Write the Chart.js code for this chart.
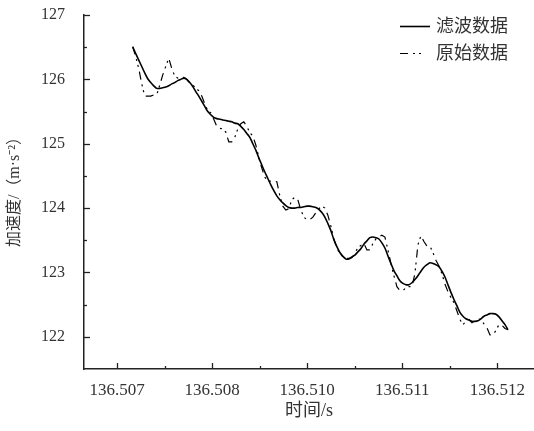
<!DOCTYPE html>
<html>
<head>
<meta charset="utf-8">
<script src="https://cdn.jsdelivr.net/npm/chart.js@4.4.1/dist/chart.umd.min.js"></script>
<style>
  html, body { margin: 0; padding: 0; background: #fff; }
</style>
</head>
<body>
<canvas id="accelChart" width="534" height="431"></canvas>
<script>
// Sample times (s)
const time = [
  136.506900, 136.506945, 136.506990, 136.507035, 136.507080, 136.507125, 136.507170, 136.507215, 136.507260, 136.507305,
  136.507350, 136.507395, 136.507440, 136.507485, 136.507530, 136.507575, 136.507620, 136.507665, 136.507710, 136.507755,
  136.507800, 136.507845, 136.507890, 136.507935, 136.507980, 136.508025, 136.508070, 136.508115, 136.508160, 136.508205,
  136.508250, 136.508295, 136.508340, 136.508385, 136.508430, 136.508475, 136.508520, 136.508565, 136.508610, 136.508655,
  136.508700, 136.508745, 136.508790, 136.508835, 136.508880, 136.508925, 136.508970, 136.509015, 136.509060, 136.509105,
  136.509150, 136.509195, 136.509240, 136.509285, 136.509330, 136.509375, 136.509420, 136.509465, 136.509510, 136.509555,
  136.509600, 136.509645, 136.509690, 136.509735, 136.509780, 136.509825, 136.509870, 136.509915, 136.509960, 136.510005,
  136.510050, 136.510095, 136.510140, 136.510185, 136.510230, 136.510275, 136.510320, 136.510365, 136.510410, 136.510455,
  136.510500, 136.510545, 136.510590, 136.510635, 136.510680, 136.510725, 136.510770, 136.510815, 136.510860, 136.510905,
  136.510950, 136.510995, 136.511040, 136.511085, 136.511130, 136.511175, 136.511220, 136.511265, 136.511310, 136.511355,
  136.511400, 136.511445, 136.511490, 136.511535, 136.511580, 136.511625, 136.511670, 136.511715, 136.511760, 136.511805,
  136.511850, 136.511895, 136.511940, 136.511985, 136.512030, 136.512075, 136.512120, 136.512165, 136.512210, 136.512255,
  136.512300, 136.512345, 136.512390, 136.512435, 136.512480, 136.512525
];

// Filtered acceleration (m/s^2)
const filtered = [
  126.50, 126.40, 126.30, 126.20, 126.10, 126.01, 125.95, 125.90, 125.86, 125.86,
  125.87, 125.88, 125.90, 125.93, 125.95, 125.98, 126.00, 126.02, 126.00, 125.95,
  125.89, 125.81, 125.74, 125.66, 125.58, 125.50, 125.45, 125.41, 125.39, 125.38,
  125.37, 125.36, 125.35, 125.34, 125.32, 125.31, 125.27, 125.22, 125.16, 125.10,
  125.00, 124.90, 124.78, 124.67, 124.56, 124.46, 124.36, 124.27, 124.19, 124.13,
  124.08, 124.04, 124.01, 124.00, 124.00, 124.01, 124.01, 124.02, 124.03, 124.03,
  124.02, 124.01, 123.98, 123.93, 123.86, 123.76, 123.65, 123.51, 123.40, 123.31,
  123.25, 123.21, 123.21, 123.24, 123.27, 123.32, 123.37, 123.44, 123.49, 123.54,
  123.55, 123.54, 123.52, 123.46, 123.38, 123.26, 123.14, 123.03, 122.95, 122.87,
  122.83, 122.81, 122.81, 122.84, 122.89, 122.95, 123.02, 123.08, 123.12, 123.15,
  123.14, 123.12, 123.09, 123.02, 122.93, 122.81, 122.69, 122.58, 122.48, 122.38,
  122.32, 122.28, 122.26, 122.24, 122.24, 122.25, 122.28, 122.32, 122.34, 122.36,
  122.36, 122.35, 122.31, 122.25, 122.19, 122.11
];

// Raw acceleration (m/s^2)
const raw = [
  126.51, 126.35, 126.17, 125.93, 125.74, 125.74, 125.74, 125.76, 125.76, 125.91,
  126.07, 126.20, 126.33, 126.17, 126.05, 126.02, 126.03, 126.03, 126.00, 125.94,
  125.91, 125.87, 125.82, 125.74, 125.62, 125.51, 125.48, 125.38, 125.27, 125.24,
  125.23, 125.18, 125.03, 125.03, 125.10, 125.23, 125.31, 125.34, 125.27, 125.17,
  125.12, 124.98, 124.79, 124.62, 124.48, 124.42, 124.42, 124.42, 124.41, 124.19,
  124.03, 123.97, 123.99, 124.13, 124.17, 124.13, 123.97, 123.86, 123.82, 123.82,
  123.86, 123.93, 123.99, 124.03, 124.00, 123.89, 123.72, 123.52, 123.38, 123.29,
  123.25, 123.22, 123.22, 123.23, 123.29, 123.39, 123.42, 123.45, 123.35, 123.35,
  123.45, 123.52, 123.55, 123.58, 123.55, 123.35, 123.14, 122.95, 122.78, 122.72,
  122.72, 122.76, 122.78, 122.78, 122.98, 123.43, 123.57, 123.48, 123.41, 123.41,
  123.31, 123.19, 123.10, 122.98, 122.82, 122.70, 122.61, 122.53, 122.40, 122.27,
  122.19, 122.24, 122.27, 122.22, 122.25, 122.28, 122.27, 122.20, 122.14, 122.03,
  122.03, 122.10, 122.19, 122.18, 122.13, 122.11
];

const xTickValues = [136.5066645, 136.5080895, 136.5095145, 136.5109395, 136.5123645];
const xTickLabels = ['136.507', '136.508', '136.510', '136.511', '136.512'];
const yTickValues = [122, 123, 124, 125, 126, 127];
const seriesNames = ['滤波数据', '原始数据'];
const xTitle = '时间/s';
const yTitle = '加速度/（m·s⁻²）';

const serif = '"Liberation Serif", "Times New Roman", "Noto Sans CJK SC", serif';
const axisColor = '#222';
const rawDash = [8, 5, 2, 4, 2, 5];

// inward tick marks, y title and in-plot legend
const decorPlugin = {
    id: 'decor',
    afterDraw(chart) {
        const ctx = chart.ctx;
        const x = chart.scales.x;
        const y = chart.scales.y;
        const area = chart.chartArea;

        ctx.save();
        ctx.strokeStyle = axisColor;
        ctx.lineWidth = 1.3;

        // x ticks
        xTickValues.forEach((v, i) => {
            const px = Math.round(x.getPixelForValue(v)) + 0.5;
            ctx.beginPath();
            ctx.moveTo(px, area.bottom);
            ctx.lineTo(px, area.bottom - 6);
            ctx.stroke();
            if (i < xTickValues.length - 1) {
                const mx = Math.round(x.getPixelForValue((v + xTickValues[i + 1]) / 2)) + 0.5;
                ctx.beginPath();
                ctx.moveTo(mx, area.bottom);
                ctx.lineTo(mx, area.bottom - 3);
                ctx.stroke();
            }
        });

        // y ticks
        yTickValues.forEach((v, i) => {
            const py = Math.round(y.getPixelForValue(v)) + 0.5;
            ctx.beginPath();
            ctx.moveTo(area.left, py);
            ctx.lineTo(area.left + 6, py);
            ctx.stroke();
            if (i < yTickValues.length - 1) {
                const my = Math.round(y.getPixelForValue((v + yTickValues[i + 1]) / 2)) + 0.5;
                ctx.beginPath();
                ctx.moveTo(area.left, my);
                ctx.lineTo(area.left + 3, my);
                ctx.stroke();
            }
        });

        // y axis title
        ctx.fillStyle = '#333';
        ctx.font = '16px ' + serif;
        ctx.textAlign = 'center';
        ctx.textBaseline = 'middle';
        ctx.translate(15, 188);
        ctx.rotate(-Math.PI / 2);
        ctx.fillText(yTitle, 0, 0);
        ctx.restore();

        // legend
        ctx.save();
        ctx.strokeStyle = '#000';
        ctx.fillStyle = '#333';
        ctx.font = '18px ' + serif;
        ctx.textAlign = 'left';
        ctx.textBaseline = 'middle';
        const rows = [26, 53];
        chart.data.datasets.forEach((ds, i) => {
            const end = ds.borderDash ? 424 : 430;
            ctx.lineWidth = ds.borderWidth;
            ctx.setLineDash(ds.borderDash || []);
            ctx.beginPath();
            ctx.moveTo(400, rows[i] + 0.5);
            ctx.lineTo(end, rows[i] + 0.5);
            ctx.stroke();
            ctx.setLineDash([]);
            ctx.fillText(ds.label, 436, rows[i] + 1);
        });
        ctx.restore();
    }
};

document.addEventListener('DOMContentLoaded', () => {
    const ctx = document.getElementById('accelChart').getContext('2d');
    new Chart(ctx, {
        type: 'line',
        data: {
            datasets: [{
                label: seriesNames[0],
                data: time.map((t, i) => ({ x: t, y: filtered[i] })),
                borderColor: '#000',
                borderWidth: 1.6,
                tension: 0.3
            }, {
                label: seriesNames[1],
                data: time.map((t, i) => ({ x: t, y: raw[i] })),
                borderColor: '#000',
                borderWidth: 1.2,
                borderDash: rawDash,
                tension: 0
            }]
        },
        options: {
            responsive: false,
            devicePixelRatio: 1,
            animation: false,
            layout: { padding: { top: 15, right: 0, bottom: 0, left: 0 } },
            elements: { point: { radius: 0 } },
            plugins: {
                legend: { display: false },
                tooltip: { enabled: false }
            },
            scales: {
                x: {
                    type: 'linear',
                    min: 136.5061695,
                    max: 136.512915,
                    afterBuildTicks: (axis) => { axis.ticks = xTickValues.map(v => ({ value: v })); },
                    afterFit: (axis) => {
                        axis.height = 62;
                        axis.paddingLeft = 0;
                        axis.paddingRight = 0;
                    },
                    grid: { display: false, drawTicks: false },
                    border: { color: axisColor, width: 1.5 },
                    ticks: {
                        autoSkip: false,
                        maxRotation: 0,
                        padding: 11,
                        color: '#333',
                        font: { family: serif, size: 17 },
                        callback: (v, i) => xTickLabels[i]
                    },
                    title: {
                        display: true,
                        text: xTitle,
                        color: '#333',
                        font: { family: serif, size: 18 },
                        padding: { top: 0, bottom: 9 }
                    }
                },
                y: {
                    min: 121.5,
                    max: 127,
                    afterBuildTicks: (axis) => { axis.ticks = yTickValues.map(v => ({ value: v })); },
                    afterFit: (axis) => {
                        axis.width = 84;
                        axis.paddingTop = 0;
                        axis.paddingBottom = 0;
                    },
                    grid: { display: false, drawTicks: false },
                    border: { color: axisColor, width: 1.5 },
                    ticks: {
                        padding: 19,
                        color: '#333',
                        font: { family: serif, size: 16 },
                        callback: (v) => v
                    }
                }
            }
        },
        plugins: [decorPlugin]
    });
});
</script>
</body>
</html>
